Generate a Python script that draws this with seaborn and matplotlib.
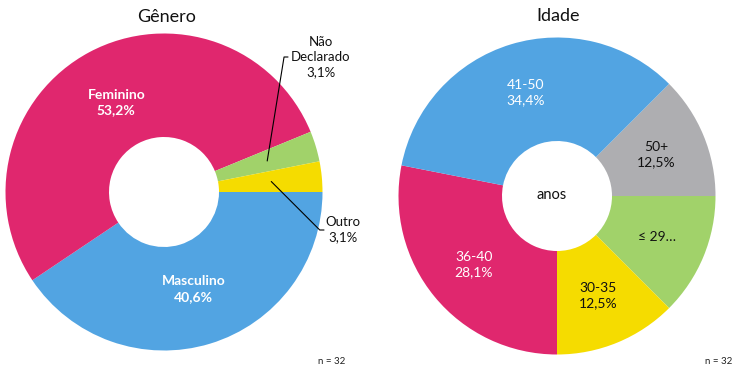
import matplotlib
matplotlib.use('Agg')
import numpy as np
import matplotlib.pyplot as plt
import seaborn as sns

# dados
genero_labels = ['Masculino', 'Feminino', 'Não\nDeclarado', 'Outro']
genero_pct = [40.6, 53.2, 3.1, 3.1]
genero_cores = ['#52A4E2', '#E0276E', '#A1D26A', '#F5DC00']

idade_labels = ['50+', '≤ 29…', '30-35', '36-40', '41-50']
idade_pct = [12.5, 12.5, 12.5, 28.1, 34.4]
idade_cores = ['#AEAEB1', '#A1D26A', '#F5DC00', '#E0276E', '#52A4E2']
idade_texto = ['#111111', '#111111', '#111111', 'white', 'white']

n_total = 32

sns.set_theme(style='white')
plt.rcParams['font.family'] = ['Lato', 'DejaVu Sans']

W, H = 739, 372
fig = plt.figure(figsize=(W / 100, H / 100), dpi=100)
ax = fig.add_axes([0, 0, 1, 1])

# eixo em pixels (y para cima)
c_gen = (164, H - 192)
c_ida = (557, H - 196)
R = 158.5


def fmt(v):
    return f'{v:.1f}'.replace('.', ',') + '%'


def ponto(wedge, r):
    ang = np.deg2rad((wedge.theta1 + wedge.theta2) / 2)
    cx, cy = wedge.center
    return cx + r * np.cos(ang), cy + r * np.sin(ang)


# Gênero
w1, _ = ax.pie(genero_pct, colors=genero_cores, startangle=0, counterclock=False,
               center=c_gen, radius=R, frame=True,
               wedgeprops=dict(width=R - 55, edgecolor='none'))

# Idade
w2, _ = ax.pie(idade_pct, colors=idade_cores, startangle=45, counterclock=False,
               center=c_ida, radius=R, frame=True,
               wedgeprops=dict(width=R - 55, edgecolor='none'))

ax.set_xlim(0, W)
ax.set_ylim(0, H)
ax.set_aspect('equal')
ax.axis('off')

# rótulos internos - gênero
for i in [0, 1]:
    x, y = ponto(w1[i], R * 0.64)
    ax.text(x, y, genero_labels[i] + '\n' + fmt(genero_pct[i]), ha='center', va='center',
            color='white', fontsize=10, fontweight='bold', linespacing=1.4)

# rótulos externos com linhas
x, y = ponto(w1[2], R * 0.68)
ax.annotate('', xy=(x, y), xytext=(288, H - 57),
            arrowprops=dict(arrowstyle='-', color='black', lw=0.8, shrinkA=0, shrinkB=0,
                            connectionstyle='angle,angleA=0,angleB=80.8,rad=0'))
ax.text(321, H - 57, genero_labels[2] + '\n' + fmt(genero_pct[2]), ha='center', va='center',
        color='#111111', fontsize=9.5, linespacing=1.3)

x, y = ponto(w1[3], R * 0.68)
ax.annotate('', xy=(x, y), xytext=(324, H - 230),
            arrowprops=dict(arrowstyle='-', color='black', lw=0.8, shrinkA=0, shrinkB=0,
                            connectionstyle='angle,angleA=0,angleB=-45,rad=0'))
ax.text(343, H - 230, genero_labels[3] + '\n' + fmt(genero_pct[3]), ha='center', va='center',
        color='#111111', fontsize=9.5, linespacing=1.3)

# rótulos - idade
for i, lab in enumerate(idade_labels):
    x, y = ponto(w2[i], R * 0.68)
    txt = lab if lab.startswith('≤') else lab + '\n' + fmt(idade_pct[i])
    ax.text(x, y, txt, ha='center', va='center', color=idade_texto[i],
            fontsize=10, linespacing=1.3)

ax.text(c_ida[0] - 5, c_ida[1] + 1, 'anos', ha='center', va='center', fontsize=10.5,
        color='#111111')

# títulos
ax.text(167, H - 17, 'Gênero', ha='center', va='center', fontsize=13, color='#111111')
ax.text(558, H - 16, 'Idade', ha='center', va='center', fontsize=13, color='#111111')

ax.text(332, H - 361, f'n = {n_total}', ha='center', va='center', fontsize=7, color='#222222')
ax.text(719, H - 361, f'n = {n_total}', ha='center', va='center', fontsize=7, color='#222222')

fig.savefig('out.png', dpi=100)
